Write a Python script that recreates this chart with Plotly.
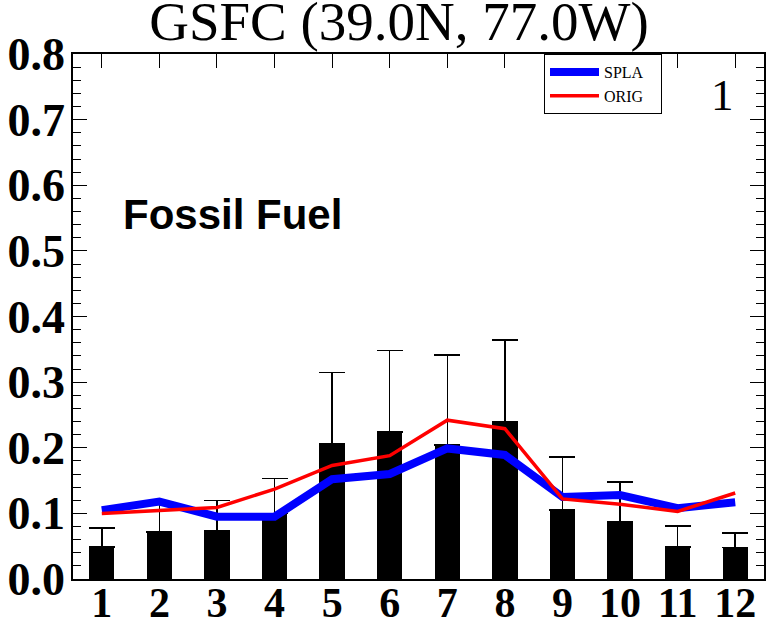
import plotly.graph_objects as go

months = list(range(1, 13))
month_labels = [str(m) for m in months]
obs = [0.049, 0.072, 0.074, 0.100, 0.206, 0.224, 0.204, 0.240, 0.105, 0.088, 0.049, 0.048]
obs_err_top = [0.078, 0.115, 0.120, 0.153, 0.315, 0.348, 0.341, 0.364, 0.186, 0.148, 0.081, 0.070]
spla = [0.105, 0.118, 0.095, 0.095, 0.152, 0.160, 0.199, 0.189, 0.125, 0.128, 0.108, 0.117]
orig = [0.100, 0.104, 0.109, 0.137, 0.173, 0.188, 0.242, 0.229, 0.122, 0.114, 0.103, 0.131]

err_plus = [t - b for t, b in zip(obs_err_top, obs)]

SERIF = "Liberation Serif, Times New Roman, serif"
W, H = 768, 623
L, T = 73, 54
R = W - 764
B = H - 579
PW, PH = W - L - R, H - T - B


def px_x(sx):
    return (sx - L) / PW


def px_y(sy):
    return (H - B - sy) / PH


fig = go.Figure()
fig.add_trace(go.Bar(
    x=months, y=obs, width=0.44, marker=dict(color="black", line=dict(width=0)),
    error_y=dict(type="data", symmetric=False, array=err_plus, arrayminus=[0] * 12,
                 color="black", thickness=1.5, width=13),
    showlegend=False,
))
fig.add_trace(go.Scatter(x=months, y=spla, mode="lines", name="SPLA&nbsp;&nbsp;&nbsp;",
                         line=dict(color="#0000ff", width=8)))
fig.add_trace(go.Scatter(x=months, y=orig, mode="lines", name="ORIG",
                         line=dict(color="#ff0000", width=3.5)))

fig.update_layout(
    width=W, height=H,
    margin=dict(l=L, r=R, t=T, b=B, autoexpand=False),
    paper_bgcolor="white", plot_bgcolor="white",
    bargap=0,
    xaxis=dict(range=[0.5, 12.5], tickmode="array", tickvals=months, ticktext=month_labels,
               ticks="inside", ticklen=14, tickwidth=1, tickcolor="black",
               showgrid=False, zeroline=False, showline=True, linecolor="black",
               linewidth=1.5, mirror="ticks", automargin=False,
               tickfont=dict(family=SERIF, size=42, color="black", weight="bold"),
               ticklabelstandoff=-14),
    yaxis=dict(range=[0, 0.8], tickmode="linear", tick0=0, dtick=0.1, tickformat=".1f",
               ticks="inside", ticklen=14, tickwidth=1, tickcolor="black",
               minor=dict(dtick=0.02, ticks="inside", ticklen=8, tickwidth=1, tickcolor="black",
                          showgrid=False),
               showgrid=False, zeroline=False, showline=True, linecolor="black",
               linewidth=1.5, mirror="ticks", automargin=False,
               tickfont=dict(family=SERIF, size=46, color="black", weight="bold"),
               ticklabelstandoff=-3),
    legend=dict(x=px_x(544), y=1, xanchor="left", yanchor="top",
                bordercolor="black", borderwidth=1, bgcolor="white",
                font=dict(family=SERIF, size=16, color="black"),
                tracegroupgap=0, itemwidth=49),
    title=dict(text="GSFC (39.0N, 77.0W)", x=399 / W, xref="container",
               xanchor="center", y=1 - 21 / H, yref="container", yanchor="middle",
               automargin=False, font=dict(family=SERIF, size=55, color="black")),
    annotations=[
        dict(text="<b>Fossil Fuel</b>", x=px_x(121), y=px_y(214),
             xref="paper", yref="paper", xanchor="left", yanchor="middle", showarrow=False,
             font=dict(family="Liberation Sans, Arial, sans-serif", size=42, color="black")),
        dict(text="1", x=px_x(722), y=px_y(95), xref="paper", yref="paper",
             xanchor="center", yanchor="middle", showarrow=False,
             font=dict(family=SERIF, size=45, color="black")),
    ],
)

fig.write_html("out.html",
               config={"displayModeBar": False},
               post_script="document.body.style.margin='0px';"
                           "document.body.style.overflow='hidden';")
